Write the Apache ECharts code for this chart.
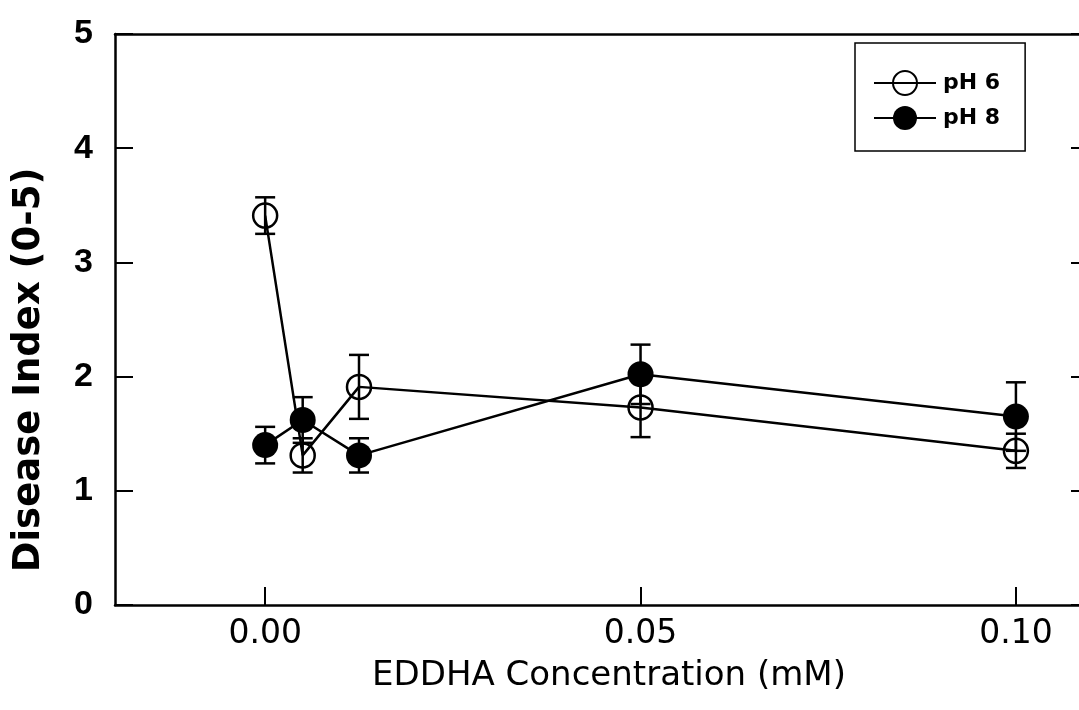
<!DOCTYPE html>
<html>
<head>
<meta charset="utf-8">
<title>Disease Index vs EDDHA Concentration</title>
<script src="https://cdn.jsdelivr.net/npm/echarts@6/dist/echarts.min.js"></script>
<style>
  html, body { margin: 0; padding: 0; background: #fff; }
  #chart { width: 1079px; height: 710px; }
</style>
</head>
<body>
<div id="chart"></div>
<script>
// EDDHA concentration (mM) for each treatment
const concentration = [0, 0.005, 0.0125, 0.05, 0.10];
// Mean disease index and error (±) at pH 6
const ph6 = [3.41, 1.31, 1.91, 1.73, 1.35];
const ph6Err = [0.16, 0.15, 0.28, 0.26, 0.15];
// Mean disease index and error (±) at pH 8
const ph8 = [1.40, 1.62, 1.31, 2.02, 1.65];
const ph8Err = [0.16, 0.20, 0.15, 0.26, 0.30];
// Axis tick values
const xTicks = [0, 0.05, 0.10];
const yTicks = [0, 1, 2, 3, 4, 5];

const pts = (ys) => concentration.map((x, i) => [x, ys[i]]);
const errRows = (ys, es) => concentration.map((x, i) => [x, ys[i] - es[i], ys[i] + es[i]]);

function errorBar(params, api) {
  const x = api.value(0);
  const lo = api.coord([x, api.value(1)]);
  const hi = api.coord([x, api.value(2)]);
  const half = 10;
  const st = { stroke: '#000', lineWidth: 2.5 };
  return {
    type: 'group',
    children: [
      { type: 'line', shape: { x1: lo[0], y1: lo[1], x2: hi[0], y2: hi[1] }, style: st },
      { type: 'line', shape: { x1: lo[0] - half, y1: lo[1], x2: lo[0] + half, y2: lo[1] }, style: st },
      { type: 'line', shape: { x1: hi[0] - half, y1: hi[1], x2: hi[0] + half, y2: hi[1] }, style: st }
    ]
  };
}

const chart = echarts.init(document.getElementById('chart'), null, { renderer: 'canvas' });

const axisLineStyle = { color: '#000', width: 2.5 };

chart.setOption({
  animation: false,
  backgroundColor: '#fff',
  // The plot frame runs past the right edge of the page, so the right axis sits off-canvas
  grid: { left: 115, top: 34, width: 976, height: 571, containLabel: false, outerBoundsMode: 'none' },
  legend: {
    left: 855,
    top: 43,
    orient: 'vertical',
    padding: [27, 25, 21, 18],
    itemGap: 10,
    itemWidth: 62,
    itemHeight: 30,
    borderColor: '#000',
    borderWidth: 1.5,
    backgroundColor: '#fff',
    data: ['pH 6', 'pH 8'],
    textStyle: { fontFamily: 'DejaVu Sans', fontWeight: 'bold', fontSize: 22, color: '#000', padding: [0, 0, 0, 2] }
  },
  xAxis: [
    {
      type: 'value',
      min: -0.02,
      max: 0.11,
      position: 'bottom',
      splitLine: { show: false },
      axisLine: { show: true, onZero: false, lineStyle: axisLineStyle },
      axisTick: { show: true, inside: true, length: 18, customValues: xTicks, lineStyle: { color: '#000', width: 2 } },
      axisLabel: {
        customValues: xTicks,
        margin: 13,
        formatter: (v) => v.toFixed(2),
        fontFamily: 'DejaVu Sans',
        fontSize: 33,
        color: '#000'
      },
      name: 'EDDHA Concentration (mM)',
      nameLocation: 'middle',
      nameGap: 54,
      nameTextStyle: { fontFamily: 'DejaVu Sans', fontSize: 34, color: '#000', padding: [0, 0, 0, 12] }
    },
    {
      type: 'value',
      min: -0.02,
      max: 0.11,
      position: 'top',
      splitLine: { show: false },
      axisLine: { show: true, onZero: false, lineStyle: axisLineStyle },
      axisTick: { show: false },
      axisLabel: { show: false }
    }
  ],
  yAxis: [
    {
      type: 'value',
      min: 0,
      max: 5,
      interval: 1,
      position: 'left',
      splitLine: { show: false },
      axisLine: { show: true, onZero: false, lineStyle: axisLineStyle },
      axisTick: { show: true, inside: true, length: 18, lineStyle: { color: '#000', width: 2 } },
      axisLabel: {
        margin: 22,
        formatter: (v) => (yTicks.indexOf(v) >= 0 ? String(v) : ''),
        fontFamily: 'Liberation Sans',
        fontWeight: 'bold',
        fontSize: 34,
        color: '#000'
      }
    },
    {
      type: 'value',
      min: 0,
      max: 5,
      interval: 1,
      position: 'right',
      splitLine: { show: false },
      axisLine: { show: true, onZero: false, lineStyle: axisLineStyle },
      axisTick: { show: true, inside: true, length: 20, lineStyle: { color: '#000', width: 2 } },
      axisLabel: { show: false }
    }
  ],
  graphic: [
    {
      type: 'text',
      x: 29,
      y: 370,
      rotation: Math.PI / 2,
      style: {
        text: 'Disease Index (0-5)',
        fontFamily: 'DejaVu Sans',
        fontWeight: 'bold',
        fontSize: 37,
        fill: '#000',
        align: 'center',
        verticalAlign: 'middle'
      }
    }
  ],
  series: [
    {
      name: 'pH 6 error',
      type: 'custom',
      renderItem: errorBar,
      data: errRows(ph6, ph6Err),
      encode: { x: 0, y: [1, 2] },
      z: 1,
      silent: true
    },
    {
      name: 'pH 8 error',
      type: 'custom',
      renderItem: errorBar,
      data: errRows(ph8, ph8Err),
      encode: { x: 0, y: [1, 2] },
      z: 1,
      silent: true
    },
    {
      name: 'pH 6',
      type: 'line',
      data: pts(ph6),
      symbol: 'circle',
      symbolSize: 24,
      showAllSymbol: true,
      lineStyle: { color: '#000', width: 2.5 },
      itemStyle: { color: 'rgba(0,0,0,0)', borderColor: '#000', borderWidth: 2.5 },
      z: 3
    },
    {
      name: 'pH 8',
      type: 'line',
      data: pts(ph8),
      symbol: 'circle',
      symbolSize: 26,
      showAllSymbol: true,
      lineStyle: { color: '#000', width: 2.5 },
      itemStyle: { color: '#000', borderColor: '#000', borderWidth: 0 },
      z: 4
    }
  ]
});
</script>
</body>
</html>
